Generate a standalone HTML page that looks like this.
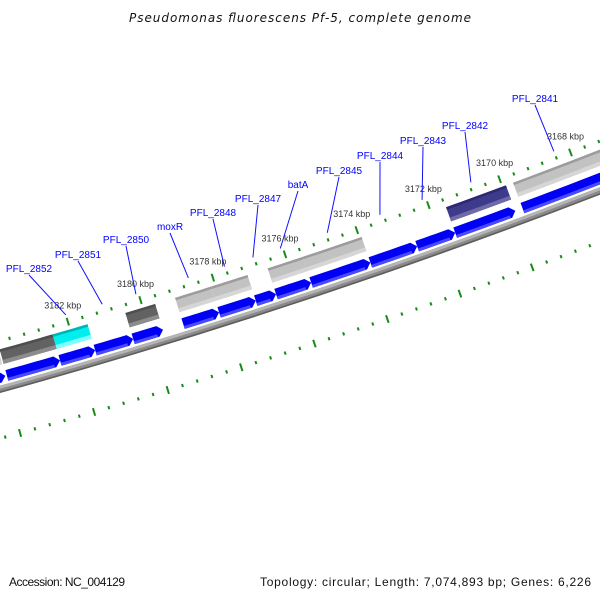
<!DOCTYPE html>
<html><head><meta charset="utf-8"><style>
html,body{margin:0;padding:0;background:#fff;}
svg{display:block;}
</style></head><body>
<svg id="chart" width="600" height="600" viewBox="0 0 600 600" xmlns="http://www.w3.org/2000/svg">
<rect x="0" y="0" width="600" height="600" fill="#fff"/>
<text x="300" y="22" text-anchor="middle" font-family="DejaVu Sans, Liberation Sans, sans-serif" font-style="italic" font-size="12" fill="#111" textLength="342">Pseudomonas fluorescens Pf-5, complete genome</text>
<g id="ticks"></g>
<g id="backbone"></g>
<g id="features"></g>
<g id="labels"></g>
<text x="9" y="586" font-family="Liberation Sans, sans-serif" font-size="12" fill="#111" textLength="116">Accession: NC_004129</text>
<text x="591" y="586" text-anchor="end" font-family="Liberation Sans, sans-serif" font-size="12" fill="#111" textLength="331">Topology: circular; Length: 7,074,893 bp; Genes: 6,226</text>
</svg>
<script>
// ---- data ----
const geneStart = [3184.5, 3183.93, 3182.48, 3181.52, 3180.48, 3179.11, 3178.12, 3177.11, 3176.55, 3175.58, 3173.94, 3172.64, 3171.58, 3169.70];
const geneEnd   = [3183.97, 3182.48, 3181.52, 3180.48, 3179.66, 3178.12, 3177.11, 3176.55, 3175.58, 3173.94, 3172.64, 3171.58, 3169.90, 3166.0];
const geneClass = ["lightgray","darkgray","cyan",null,"darkgray","lightgray","lightgray",null,"lightgray","lightgray",null,null,"purple","lightgray"];
const geneLabel = [null,null,"PFL_2852","PFL_2851","PFL_2850","moxR","PFL_2848","PFL_2847","batA","PFL_2845","PFL_2844","PFL_2843","PFL_2842","PFL_2841"];
const labelTarget = [null,null,3182.0,3181.0,3180.07,3178.62,3177.62,3176.83,3176.07,3174.76,3173.29,3172.11,3170.74,3168.4];
const tickLabels = [3182, 3180, 3178, 3176, 3174, 3172, 3170, 3168];
// label layout (text center x, baseline y)
const labelX = [0,0,29,78,126,170,213,258,298,339,380,423,465,535];
const labelY = [0,0,272,258,243,230,216,202,188,174,159,144,129,102];

// ---- geometry ----
const SVGNS = "http://www.w3.org/2000/svg";
const Cx = -1704, Cy = -5773, A0 = 73.79, DEG = 0.3421, K0 = 3182;
const R_TICK = 6347, R_TICK2 = 6441;
function pt(k, r){ const a=(A0-(K0-k)*DEG)*Math.PI/180; return [Cx+r*Math.cos(a), Cy+r*Math.sin(a)]; }
function arcPts(k1,k2,r,n){ const out=[]; for(let i=0;i<=n;i++){ out.push(pt(k1+(k2-k1)*i/n, r)); } return out; }
function band(k1,k2,r1,r2){ const a=arcPts(k1,k2,r1,8), b=arcPts(k2,k1,r2,8); return a.concat(b).map(p=>p[0].toFixed(2)+","+p[1].toFixed(2)).join(" "); }
function mk(tag, parent){ const e=document.createElementNS(SVGNS, tag); parent.appendChild(e); return e; }

const colors = {
  lightgray:{body:"#c2c2c2", top:"#9c9c9c", bot:"#d6d6d6"},
  darkgray:{body:"#626262", top:"#4e4e4e", bot:"#8c8c8c"},
  cyan:{body:"#00eeee", top:"#00b4b4", bot:"#80ffff"},
  purple:{body:"#3e3a8c", top:"#2c2872", bot:"#6e6aa8"}
};

// ---- ticks ----
const gT = document.getElementById("ticks");
for (let i=0; i<=50; i++){
  const k = 3186 - i*0.4;
  const major = (i%5===0);
  const half = major ? 4 : 1.6;
  [R_TICK, R_TICK2].forEach(function(R){
    const p1=pt(k,R-half), p2=pt(k,R+half);
    const ln = mk("line", gT);
    
    
    ln.setAttribute("x1",p1[0]); ln.setAttribute("y1",p1[1]);
    ln.setAttribute("x2",p2[0]); ln.setAttribute("y2",p2[1]);
    ln.setAttribute("stroke","#1a8a1a"); ln.setAttribute("stroke-width","2");
  });
}
tickLabels.forEach(function(k){
  const p = pt(k, R_TICK);
  const t = mk("text", gT);
  
  
  t.setAttribute("x", p[0]-5); t.setAttribute("y", p[1]-13);
  t.setAttribute("text-anchor","middle");
  t.setAttribute("font-family","Liberation Sans, sans-serif");
  t.setAttribute("font-size","9"); t.setAttribute("fill","#333");
  t.textContent = k + " kbp";
});

// ---- backbone ----
const gB = document.getElementById("backbone");
[[6393.5,7,"#8a8a8a"],[6391.5,3,"#b4b4b4"],[6396.3,1.6,"#5e5e5e"]].forEach(function(s){
  const c = mk("circle", gB);
  
  
  c.setAttribute("cx",Cx); c.setAttribute("cy",Cy); c.setAttribute("r",s[0]);
  c.setAttribute("fill","none"); c.setAttribute("stroke",s[2]); c.setAttribute("stroke-width",s[1]);
});

// ---- features ----
const gF = document.getElementById("features");
const G1=6355, G2=6370, B1=6376.5, B2=6387.5, HEAD=0.14;
for (let i=0;i<geneStart.length;i++){
  const k1=geneStart[i], k2=geneEnd[i];
  const cls = geneClass[i];
  if (cls){
    const c = colors[cls];
    const b = mk("polygon", gF);
    
    
    b.setAttribute("points", band(k1,k2,G1,G2)); b.setAttribute("fill",c.body);
    const tp = mk("polygon", gF);
    
    
    tp.setAttribute("points", band(k1,k2,G1,G1+2.5)); tp.setAttribute("fill",c.top);
    const bt = mk("polygon", gF);
    
    
    bt.setAttribute("points", band(k1,k2,G2-4,G2)); bt.setAttribute("fill",c.bot);
  }
  const kh = k2 + HEAD;
  const pts = arcPts(k1,kh,B1,8).concat([pt(k2,(B1+B2)/2)]).concat(arcPts(kh,k1,B2,8));
  const ar = mk("polygon", gF);
  
  
  ar.setAttribute("points", pts.map(p=>p[0].toFixed(2)+","+p[1].toFixed(2)).join(" "));
  ar.setAttribute("fill","#0000f5");
  const st = mk("polygon", gF);
  
  
  st.setAttribute("points", band(k1,kh+0.04,B2-3,B2)); st.setAttribute("fill","#4a4aff");
}

// ---- gene labels ----
const gL = document.getElementById("labels");
for (let i=0;i<geneLabel.length;i++){
  if (!geneLabel[i]) continue;
  const tgt = pt(labelTarget[i], 6340);
  const ln = mk("line", gL);
  
  
  ln.setAttribute("x1",labelX[i]); ln.setAttribute("y1",labelY[i]+3);
  ln.setAttribute("x2",tgt[0]); ln.setAttribute("y2",tgt[1]);
  ln.setAttribute("stroke","#1010ff"); ln.setAttribute("stroke-width","1");
  const t = mk("text", gL);
  
  
  t.setAttribute("x",labelX[i]); t.setAttribute("y",labelY[i]);
  t.setAttribute("text-anchor","middle");
  t.setAttribute("font-family","Liberation Sans, sans-serif");
  t.setAttribute("font-size","10"); t.setAttribute("fill","#0000ff");
  t.textContent = geneLabel[i];
}
</script>
</body></html>
